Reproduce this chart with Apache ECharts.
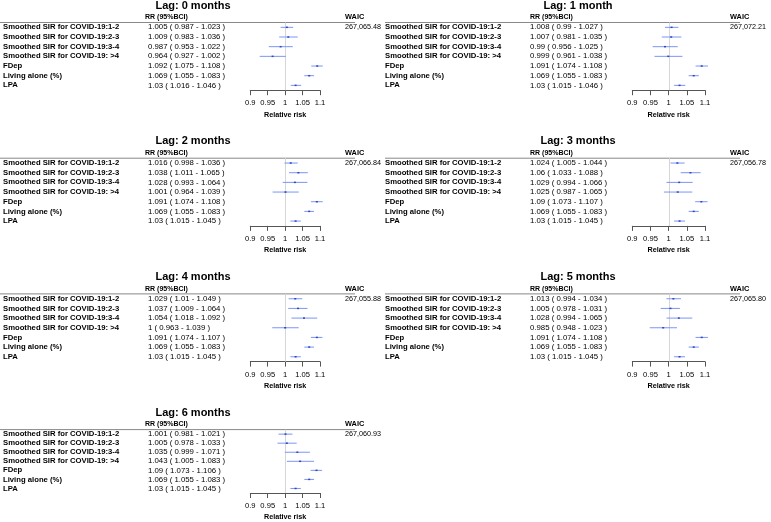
<!DOCTYPE html>
<html>
<head>
<meta charset="utf-8">
</head>
<body style="margin: 0">
<div id="container" style="width: 771px; height: 522px"></div>
<script src="https://cdn.jsdelivr.net/npm/echarts@6/dist/echarts.min.js"></script>
<script>
var rowLabels = [
    'Smoothed SIR for COVID-19:1-2',
    'Smoothed SIR for COVID-19:2-3',
    'Smoothed SIR for COVID-19:3-4',
    'Smoothed SIR for COVID-19: >4',
    'FDep',
    'Living alone (%)',
    'LPA'
];
var lagTitles = ['Lag: 0 months', 'Lag: 1 month', 'Lag: 2 months', 'Lag: 3 months',
    'Lag: 4 months', 'Lag: 5 months', 'Lag: 6 months'];
var waicValues = ['267,065.48', '267,072.21', '267,066.84', '267,056.78',
    '267,055.88', '267,065.80', '267,060.93'];

// one row per lag, one column per covariate
var rrEst = [
    [1.005, 1.009, 0.987, 0.964, 1.092, 1.069, 1.03],
    [1.008, 1.007, 0.99, 0.999, 1.091, 1.069, 1.03],
    [1.016, 1.038, 1.028, 1.001, 1.091, 1.069, 1.03],
    [1.024, 1.06, 1.029, 1.025, 1.09, 1.069, 1.03],
    [1.029, 1.037, 1.054, 1, 1.091, 1.069, 1.03],
    [1.013, 1.005, 1.028, 0.985, 1.091, 1.069, 1.03],
    [1.001, 1.005, 1.035, 1.043, 1.09, 1.069, 1.03]
];
var rrLow = [
    [0.987, 0.983, 0.953, 0.927, 1.075, 1.055, 1.016],
    [0.99, 0.981, 0.956, 0.961, 1.074, 1.055, 1.015],
    [0.998, 1.011, 0.993, 0.964, 1.074, 1.055, 1.015],
    [1.005, 1.033, 0.994, 0.987, 1.073, 1.055, 1.015],
    [1.01, 1.009, 1.018, 0.963, 1.074, 1.055, 1.015],
    [0.994, 0.978, 0.994, 0.948, 1.074, 1.055, 1.015],
    [0.981, 0.978, 0.999, 1.005, 1.073, 1.055, 1.015]
];
var rrHigh = [
    [1.023, 1.036, 1.022, 1.002, 1.108, 1.083, 1.046],
    [1.027, 1.035, 1.025, 1.038, 1.108, 1.083, 1.046],
    [1.036, 1.065, 1.064, 1.039, 1.108, 1.083, 1.045],
    [1.044, 1.088, 1.066, 1.065, 1.107, 1.083, 1.045],
    [1.049, 1.064, 1.092, 1.039, 1.107, 1.083, 1.045],
    [1.034, 1.031, 1.065, 1.023, 1.108, 1.083, 1.045],
    [1.021, 1.033, 1.071, 1.083, 1.106, 1.083, 1.045]
];
var refValue = 1;

var FONT = 'Liberation Sans, Arial, sans-serif';
var panelW = 385, panelH = 135.7;
var plotLeft = 247.3, plotW = 72.7, plotTop = 22.5, plotH = 67.7;

var dom = document.getElementById('container');
var myChart = echarts.init(dom);

function rrText(lag, i) {
    return rrEst[lag][i] + ' ( ' + rrLow[lag][i] + ' - ' + rrHigh[lag][i] + ' )';
}

function renderCI(params, api) {
    var row = api.value(3);
    var a = api.coord([api.value(0), row]);
    var b = api.coord([api.value(1), row]);
    var c = api.coord([api.value(2), row]);
    var children = [];
    if (params.dataIndex === 0) {
        // vertical reference line at RR = 1, across the whole plot area
        var cs = params.coordSys;
        var rx = Math.round(api.coord([refValue, row])[0]) + 0.5;
        children.push({type: 'line', z2: 0,
            shape: {x1: rx, y1: cs.y, x2: rx, y2: cs.y + cs.height},
            style: {stroke: '#d6d6d6', lineWidth: 1}});
    }
    children.push(
        {type: 'line', z2: 1, shape: {x1: a[0], y1: a[1], x2: b[0], y2: b[1]},
            style: {stroke: '#7d95f5', lineWidth: 1}},
        {type: 'rect', z2: 2, shape: {x: c[0] - 1, y: c[1] - 0.75, width: 2, height: 1.5},
            style: {fill: '#2a44cc'}}
    );
    return {type: 'group', children: children};
}

var grids = [], xAxes = [], yAxes = [], series = [], graphics = [];

lagTitles.forEach(function (title, lag) {
    var px = (lag % 2) * panelW;
    var py = Math.floor(lag / 2) * panelH;

    grids.push({left: px + plotLeft, top: py + plotTop, width: plotW, height: plotH});

    xAxes.push({
        gridIndex: lag, type: 'value', min: 0.9, max: 1.1, interval: 0.05,
        name: 'Relative risk', nameLocation: 'middle', nameGap: 21,
        nameTextStyle: {fontFamily: FONT, fontSize: 7.2, fontWeight: 'bold', color: '#000'},
        axisLine: {show: true, onZero: false, lineStyle: {color: '#555', width: 1}},
        axisTick: {show: true, length: 5, lineStyle: {color: '#555'}},
        splitLine: {show: false},
        axisLabel: {
            margin: 9, fontFamily: FONT, fontSize: 7.6, color: '#000',
            formatter: function (v) { return String(+v.toFixed(2)); }
        }
    });

    yAxes.push({
        gridIndex: lag, type: 'category', inverse: true, data: rowLabels,
        axisLine: {show: false}, axisTick: {show: false}, splitLine: {show: false},
        axisLabel: {
            interval: 0, align: 'left', margin: plotLeft,
            formatter: function (v, i) { return '{a|' + v + '}{b|' + rrText(lag, i) + '}'; },
            rich: {
                a: {width: 145, fontFamily: FONT, fontSize: 7.7, fontWeight: 'bold', color: '#000'},
                b: {fontFamily: FONT, fontSize: 7.8, color: '#000'}
            }
        }
    });

    var data = rowLabels.map(function (l, i) {
        return [rrLow[lag][i], rrHigh[lag][i], rrEst[lag][i], i];
    });

    series.push({
        type: 'custom', xAxisIndex: lag, yAxisIndex: lag,
        renderItem: renderCI,
        encode: {x: [0, 1, 2], y: 3},
        data: data
    });

    graphics.push(
        {type: 'text', x: px + 193, y: py + 5.5, style: {text: title, fontFamily: FONT,
            fontSize: 11, fontWeight: 'bold', fill: '#000', align: 'center', verticalAlign: 'middle'}},
        {type: 'text', x: px + 145, y: py + 17.3, style: {text: 'RR (95%BCI)', fontFamily: FONT,
            fontSize: 7, fontWeight: 'bold', fill: '#000', verticalAlign: 'middle'}},
        {type: 'text', x: px + 345, y: py + 17.3, style: {text: 'WAIC', fontFamily: FONT,
            fontSize: 7.4, fontWeight: 'bold', fill: '#000', verticalAlign: 'middle'}},
        {type: 'text', x: px + 345, y: py + 27.3, style: {text: waicValues[lag], fontFamily: FONT,
            fontSize: 7.2, fill: '#000', verticalAlign: 'middle'}},
        {type: 'line', shape: {x1: px, y1: py + plotTop, x2: px + 355, y2: py + plotTop},
            style: {stroke: '#888', lineWidth: 1}}
    );
});

var option = {
    animation: false,
    backgroundColor: '#fff',
    grid: grids,
    xAxis: xAxes,
    yAxis: yAxes,
    series: series,
    graphic: graphics
};

myChart.setOption(option);
</script>
</body>
</html>
